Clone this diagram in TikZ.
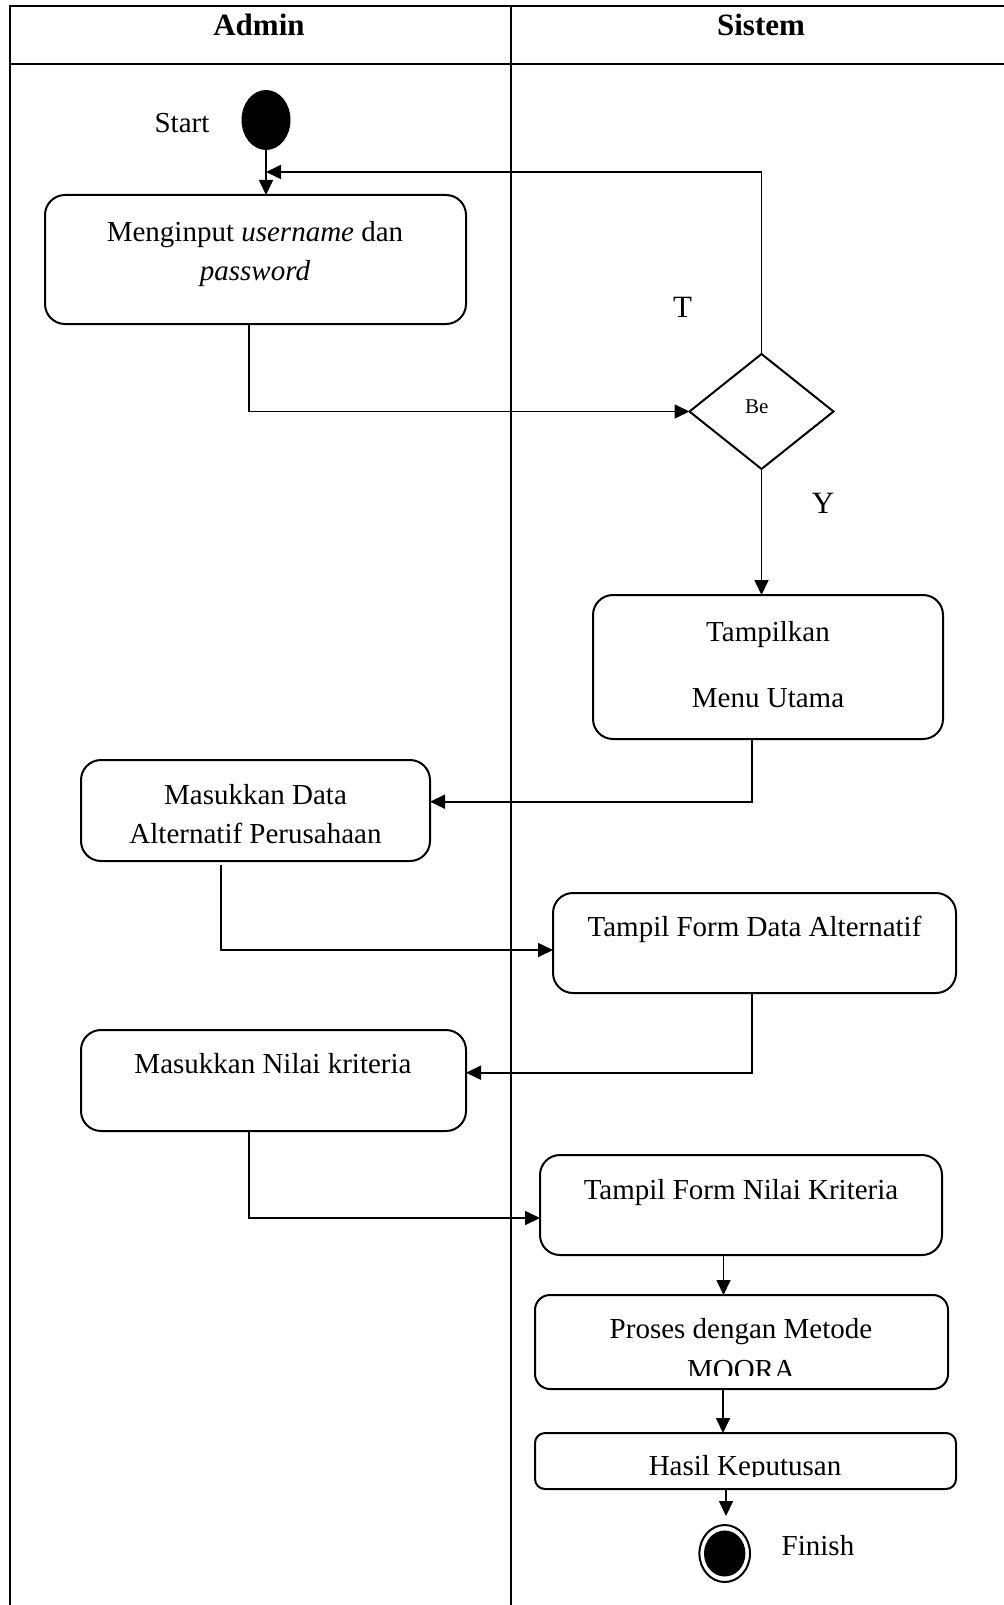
\documentclass[tikz,border=0pt]{standalone}
\usepackage{fontspec}
\setmainfont{Liberation Serif}
\usetikzlibrary{arrows.meta,shapes.geometric,calc}

\begin{document}
\begin{tikzpicture}[x=0.5pt,y=-0.5pt,
  lane/.style={line width=1.3pt},
  act/.style={draw,line width=1pt,rounded corners=10pt,inner sep=0pt,outer sep=0pt},
  flow/.style={line width=0.85pt,-{Triangle[length=7.5pt,width=7pt]}},
  txt/.style={font=\fontsize{14.5}{17}\selectfont,inner sep=0pt,anchor=base},
  head/.style={font=\fontsize{15.5}{18}\selectfont\bfseries,inner sep=0pt,anchor=base},
  lbl/.style={font=\fontsize{15.5}{18}\selectfont,inner sep=0pt,anchor=base},
]
\useasboundingbox (0,0) rectangle (1004,1605);

% swimlane frame
\draw[lane] (1004,6) -- (10,6) -- (10,1605);
\draw[lane] (10,64) -- (1004,64);
\draw[lane] (511,6) -- (511,1605);
\node[head] (hAdmin) at (259,36) {Admin};
\node[head] (hSistem) at (761,36) {Sistem};

% initial node
\node[ellipse,fill=black,inner sep=0pt,outer sep=0pt,minimum width=24.5pt,minimum height=30pt] (start) at (266,120) {};
\node[lbl,font=\fontsize{14.5}{17}\selectfont] (lStart) at (182,133) {Start};

% activities
\node[act,minimum width=210.5pt,minimum height=64.5pt] (b1) at (255.5,259.5) {};
\node[txt] (t1a) at (255,242) {Menginput \textit{username} dan};
\node[txt] (t1b) at (255,280) {\textit{password}};

\node[diamond,draw,line width=1pt,inner sep=0pt,outer sep=0pt,minimum width=72pt,minimum height=57.5pt] (dec) at (761.5,411.5) {};
\node[txt,font=\fontsize{10.5}{12}\selectfont] (tdec) at (756.7,413) {Be};
\node[lbl] (lT) at (682.5,317) {T};
\node[lbl] (lY) at (823,513) {Y};

\node[act,minimum width=175pt,minimum height=72pt] (b2) at (768,667) {};
\node[txt] (t2a) at (768,641) {Tampilkan};
\node[txt] (t2b) at (768,707) {Menu Utama};

\node[act,minimum width=174.5pt,minimum height=50.5pt] (b3) at (255.5,810.5) {};
\node[txt] (t3a) at (255.5,804) {Masukkan Data};
\node[txt] (t3b) at (255.5,843) {Alternatif Perusahaan};

\node[act,minimum width=201.5pt,minimum height=50pt] (b4) at (754.5,943) {};
\node[txt] (t4) at (754.5,936) {Tampil Form Data Alternatif};

\node[act,minimum width=192.5pt,minimum height=50.5pt] (b5) at (273.5,1080.5) {};
\node[txt] (t5) at (273,1073) {Masukkan Nilai kriteria};

\node[act,minimum width=201pt,minimum height=50pt] (b6) at (741,1205) {};
\node[txt] (t6) at (741,1199) {Tampil Form Nilai Kriteria};

\node[act,rounded corners=7.5pt,minimum width=206.5pt,minimum height=47pt] (b7) at (741.5,1342) {};
\node[txt] (t7a) at (741,1338) {Proses dengan Metode};
\begin{scope}
  \clip (535,1295) rectangle (948,1375);
  \node[txt] (t7b) at (741,1379) {MOORA};
\end{scope}

\node[act,rounded corners=5pt,minimum width=210.5pt,minimum height=28pt] (b8) at (745.5,1461) {};
\begin{scope}
  \clip (535,1433) rectangle (956,1476);
  \node[txt] (t8) at (745,1475) {Hasil Keputusan};
\end{scope}

% final node
\node[ellipse,draw,line width=1pt,inner sep=0pt,outer sep=0pt,minimum width=25.3pt,minimum height=28.5pt] (fin) at (724.7,1553.5) {};
\node[ellipse,fill=black,inner sep=0pt,minimum width=20.7pt,minimum height=23pt] (finIn) at (fin.center) {};
\node[txt] (lFinish) at (818,1555) {Finish};

% bend points of the connectors
\coordinate (loopy) at (0,172);
\coordinate (k1) at (249,0);
\coordinate (k2) at (751.7,801.7);
\coordinate (k3) at (221,950);
\coordinate (k4) at (752,1072.7);
\coordinate (k5) at (249,1218);
\coordinate (k6) at (723.5,0);
\coordinate (k7) at (723,0);
\coordinate (k8) at (726,1516);

% control flow
\draw[flow] (start.south) -- (start.south |- b1.north);
\draw[flow] (dec.north) |- (start |- loopy);
\draw[flow] (b1.south -| k1) |- (dec.west);
\draw[flow] (dec.south) -- (dec.south |- b2.north);
\draw[flow] (b2.south -| k2) -- (k2) -- (k2 -| b3.east);
\draw[flow] ([yshift=-2pt]b3.south -| k3) -- (k3) -- (k3 -| b4.west);
\draw[flow] (b4.south -| k4) -- (k4) -- (k4 -| b5.east);
\draw[flow] (b5.south -| k5) -- (k5) -- (k5 -| b6.west);
\draw[flow] (b6.south -| k6) -- (b7.north -| k6);
\draw[flow] (b7.south -| k7) -- (b8.north -| k7);
\draw[flow] (b8.south -| k8) -- (k8);
\end{tikzpicture}
\end{document}
